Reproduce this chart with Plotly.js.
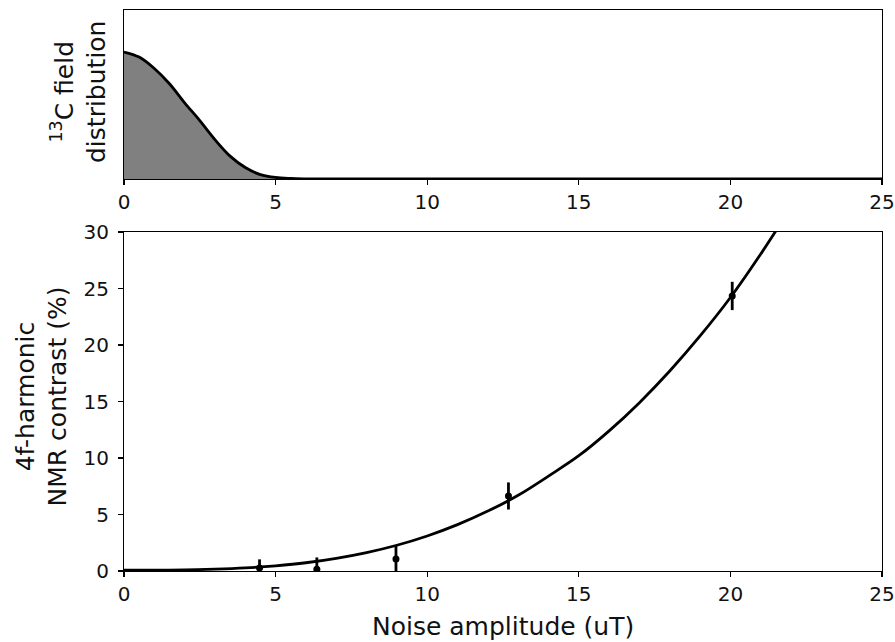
<!DOCTYPE html>
<html>
<head>
<meta charset="utf-8">
<script src="https://cdn.plot.ly/plotly-3.0.1.min.js"></script>
<style>html,body{margin:0;padding:0;background:#fff;}#chart{width:895px;height:642px;}</style>
</head>
<body>
<div id="chart"></div>
<script>
// 13C field distribution (top panel)
const distX = [0,0.5,1,1.5,2,2.5,3,3.5,4,4.5,5,5.5,6,6.5,7,8,9,10,12,15,20,25];
const distY = [1.0,0.96,0.87,0.75,0.60,0.46,0.31,0.18,0.09,0.035,0.012,0.004,0.001,0,0,0,0,0,0,0,0,0];

// Measured 4f-harmonic NMR contrast (bottom panel)
const noiseAmp = [4.47, 6.36, 8.97, 12.68, 20.06];
const contrast = [0.27, 0.15, 1.06, 6.64, 24.34];
const contrastErr = [0.76, 1.05, 1.24, 1.2, 1.25];

// Fitted curve
const fitX = [0,1,2,3,4,5,6,7,8,9,10,11,12,13,14,15,16,17,18,19,20,21,22];
const fitY = [0.08,0.08,0.1,0.16,0.27,0.46,0.73,1.12,1.63,2.28,3.1,4.1,5.3,6.7,8.4,10.2,12.4,14.9,17.7,20.8,24.2,28.05,32.2];

const xTicks = [0,5,10,15,20,25];
const yTicks = [0,5,10,15,20,25,30];

const FONT = 'DejaVu Sans, sans-serif';
const W = 895, H = 642;
const px = v => v / W;
const py = v => 1 - v / H;

const traces = [
  {x: distX, y: distY, xaxis: 'x', yaxis: 'y', type: 'scatter', mode: 'lines',
   fill: 'tozeroy', fillcolor: '#808080', line: {color: '#000', width: 2.8, shape: 'spline'}, hoverinfo: 'skip'},
  {x: fitX, y: fitY, xaxis: 'x2', yaxis: 'y2', type: 'scatter', mode: 'lines',
   line: {color: '#000', width: 2.8, shape: 'spline'}},
  {x: noiseAmp, y: contrast, xaxis: 'x2', yaxis: 'y2', type: 'scatter', mode: 'markers',
   marker: {color: '#000', size: 7},
   error_y: {type: 'data', array: contrastErr, visible: true, color: '#000', thickness: 2.8, width: 0}}
];

const axisCommon = {
  showline: true, linecolor: '#000', linewidth: 1.1, mirror: true,
  showgrid: false, zeroline: false,
  ticks: 'outside', ticklen: 5, tickwidth: 1.1, tickcolor: '#000',
  tickfont: {family: FONT, size: 20, color: '#111'}
};

const layout = {
  width: W, height: H,
  margin: {l: 0, r: 0, t: 0, b: 0},
  paper_bgcolor: '#fff', plot_bgcolor: '#fff',
  showlegend: false,
  xaxis: Object.assign({}, axisCommon, {domain: [px(124), px(882)], range: [0, 25], anchor: 'y',
    tickvals: xTicks, ticktext: xTicks.map(String)}),
  yaxis: Object.assign({}, axisCommon, {domain: [py(179), py(10)], range: [0, 1.331], anchor: 'x',
    ticks: '', showticklabels: false}),
  xaxis2: Object.assign({}, axisCommon, {domain: [px(124), px(882)], range: [0, 25], anchor: 'y2',
    tickvals: xTicks, ticktext: xTicks.map(String)}),
  yaxis2: Object.assign({}, axisCommon, {domain: [py(571), py(232)], range: [0, 30], anchor: 'x2',
    tickvals: yTicks, ticktext: yTicks.map(String), ticklabelstandoff: 5}),
  annotations: [
    {text: 'Noise amplitude (uT)', xref: 'paper', yref: 'paper', x: px(503), y: py(626),
     xanchor: 'center', yanchor: 'middle', showarrow: false, font: {family: FONT, size: 25, color: '#111'}},
    {text: '4f-harmonic<br>NMR contrast (%)', xref: 'paper', yref: 'paper', x: px(41.5), y: py(397),
     xanchor: 'center', yanchor: 'middle', textangle: -90, showarrow: false,
     font: {family: FONT, size: 25, color: '#111'}},
    {text: '<sup>13</sup>C field<br>distribution', xref: 'paper', yref: 'paper', x: px(78), y: py(92),
     xanchor: 'center', yanchor: 'middle', textangle: -90, showarrow: false,
     font: {family: FONT, size: 25, color: '#111'}}
  ]
};

Plotly.newPlot('chart', traces, layout, {staticPlot: true, displayModeBar: false});
</script>
</body>
</html>
